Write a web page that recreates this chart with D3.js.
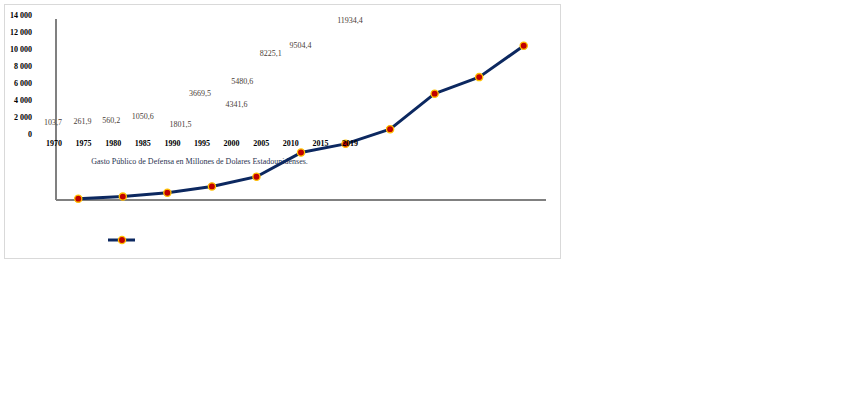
<!DOCTYPE html>
<html>
<head>
<meta charset="utf-8">
<script src="https://cdn.jsdelivr.net/npm/d3@7"></script>
<style>
  html, body { margin: 0; padding: 0; background: #fff; }
  svg { display: block; }
</style>
</head>
<body>
<svg id="chart" width="850" height="397"></svg>
<script>
// ---- data ----
const categories = ["1970", "1975", "1980", "1985", "1990", "1995", "2000", "2005", "2010", "2015", "2019"];
const gastoDefensa = [103.7, 261.9, 560.2, 1050.6, 1801.5, 3669.5, 4341.6, 5480.6, 8225.1, 9504.4, 11934.4];
const yTicks = [0, 2000, 4000, 6000, 8000, 10000, 12000, 14000];
const chartTitle = "Gasto Público de Defensa en Millones de Dolares Estadounidenses.";

// ---- layout (label nudges, not data) ----
const labelNudge = [[-1,-10],[-1,-10],[-2,-9],[0,-8],[8,6],[-2,-9],[5,8],[-19,-6],[-20,-10],[-20,-8],[0,-12]];

const locale = d3.formatLocale({decimal: ",", thousands: " ", grouping: [3], currency: ["", ""]});
const fmtTick = locale.format(",.0f");
const fmtVal = locale.format(".1f");

const svg = d3.select("#chart");

// frame
svg.append("rect").attr("x", 4.5).attr("y", 4.5).attr("width", 556).attr("height", 254)
  .attr("fill", "#fff").attr("stroke", "#d9d9d9").attr("stroke-width", 1);

// main plotting scales
const x = d3.scaleBand().domain(categories).range([56, 546]);
const y = d3.scaleLinear().domain([0, 14000]).range([200, 19]);

// displaced label scales (labels in the reference are rendered in a compressed block)
const xl = d3.scaleBand().domain(categories).range([39.2, 364.8]);
const yl = d3.scaleLinear().domain([0, 14000]).range([133.5, 14.5]);

const serif = "'Liberation Serif', 'Times New Roman', serif";

// title
svg.append("text").attr("x", 199.5).attr("y", 164)
  .attr("text-anchor", "middle").attr("font-family", serif).attr("font-size", 8)
  .attr("fill", "#2b3350").text(chartTitle);

// axis lines
svg.append("line").attr("x1", x.range()[0]).attr("x2", x.range()[0])
  .attr("y1", y(14000)).attr("y2", y(0)).attr("stroke", "#808080").attr("stroke-width", 2);
svg.append("line").attr("x1", x.range()[0]).attr("x2", x.range()[1])
  .attr("y1", y(0)).attr("y2", y(0)).attr("stroke", "#808080").attr("stroke-width", 2);

// data labels
svg.append("g").selectAll("text").data(gastoDefensa).join("text")
  .attr("x", (d, i) => xl(categories[i]) + xl.bandwidth() / 2 + labelNudge[i][0])
  .attr("y", (d, i) => yl(d) + labelNudge[i][1] + 2.8)
  .attr("text-anchor", "middle").attr("font-family", serif).attr("font-size", 8)
  .attr("fill", "#4a4038").text(d => fmtVal(d));

// line + markers
const line = d3.line().x((d, i) => x(categories[i]) + x.bandwidth() / 2).y(d => y(d));
svg.append("path").datum(gastoDefensa).attr("d", line)
  .attr("fill", "none").attr("stroke", "#0c2860").attr("stroke-width", 3)
  .attr("stroke-linejoin", "round").attr("stroke-linecap", "round");
svg.append("g").selectAll("circle").data(gastoDefensa).join("circle")
  .attr("cx", (d, i) => x(categories[i]) + x.bandwidth() / 2)
  .attr("cy", d => y(d)).attr("r", 3.6)
  .attr("fill", "#c00000").attr("stroke", "#ffc000").attr("stroke-width", 1.3);

// displaced tick labels
const yAxis = d3.axisLeft(yl).tickValues(yTicks).tickSize(0).tickPadding(0)
  .tickFormat(d => fmtTick(d));
const gy = svg.append("g").attr("transform", "translate(32,0)").call(yAxis);
gy.select(".domain").remove();
gy.selectAll("text").attr("font-family", serif).attr("font-size", 8)
  .attr("font-weight", "bold").attr("fill", "#000");

const xAxis = d3.axisBottom(xl).tickSize(0).tickPadding(0);
const gx = svg.append("g").attr("transform", "translate(0,140.3)").call(xAxis);
gx.select(".domain").remove();
gx.selectAll("text").attr("font-family", serif).attr("font-size", 8)
  .attr("font-weight", "bold").attr("fill", "#000");

// legend
const lg = svg.append("g");
lg.append("line").attr("x1", 108).attr("x2", 135).attr("y1", 240).attr("y2", 240)
  .attr("stroke", "#0c2860").attr("stroke-width", 3);
lg.append("circle").attr("cx", 122).attr("cy", 240).attr("r", 3.6)
  .attr("fill", "#c00000").attr("stroke", "#ffc000").attr("stroke-width", 1.3);
</script>
</body>
</html>
